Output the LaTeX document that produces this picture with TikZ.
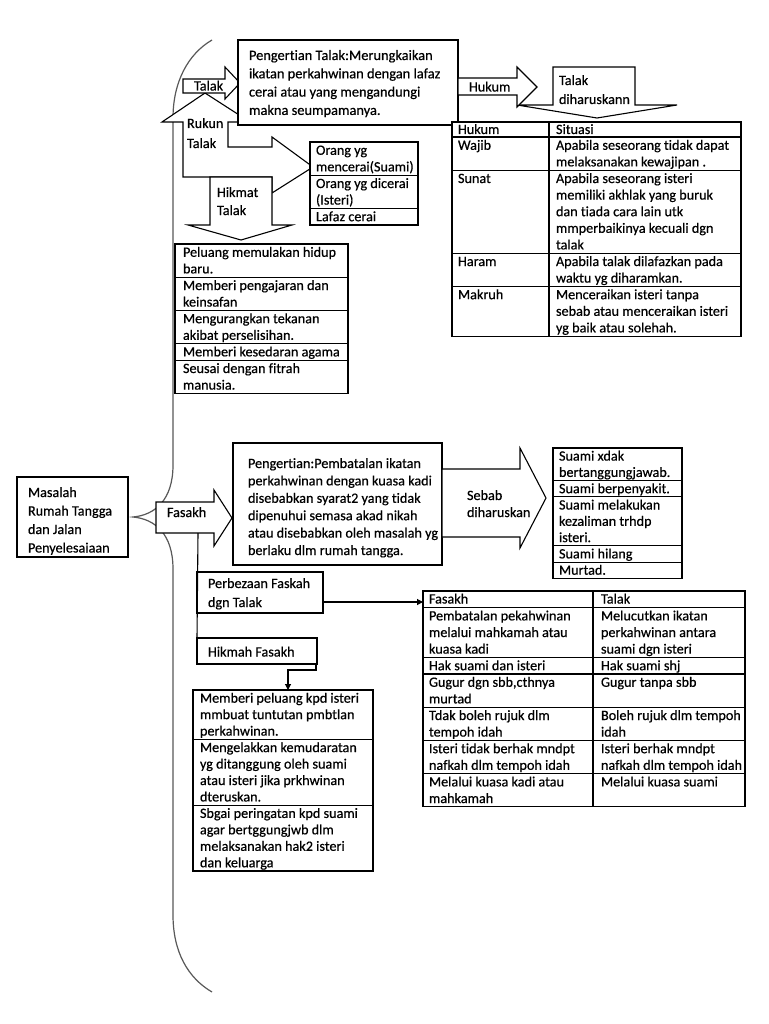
\documentclass[tikz,border=0pt]{standalone}
\usepackage{fontspec}
\setmainfont{Carlito}[FakeBold=0.5,Ligatures=NoCommon]
\usetikzlibrary{arrows.meta}
\newcommand\fs{\fontsize{14.2pt}{16.6pt}\selectfont}
\newcommand\ml[2]{\vtop{\baselineskip=#1\relax\lineskiplimit=-100pt\relax\lineskip=0pt\relax\halign{##\hfil\cr#2\crcr}}}
\begin{document}
\begin{tikzpicture}[x=1pt,y=-1pt,
  ln/.style={draw=black,line width=1.1pt},
  shp/.style={ln,fill=white,line join=miter},
  bx/.style={ln,fill=white,inner sep=0pt,outer sep=0pt,anchor=north west},
  tx/.style={inner sep=0pt,outer sep=0pt,anchor=base west,font=\fs,text=black},
  brace/.style={draw=black!65,line width=1.2pt},
  tip/.style={-{Triangle[length=6pt,width=6pt]}}
]
\useasboundingbox[fill=white] (0,0) rectangle (768,1024);

% brace
\draw[brace] (212,40) .. controls (188,54) and (173,82) .. (173,118) -- (173,465)
  .. controls (173,500) and (155,515) .. (133,517)
  .. controls (155,519) and (173,534) .. (173,569) -- (173,915)
  .. controls (173,952) and (188,978) .. (212,992);

% Masalah
\node[bx,minimum width=111pt,minimum height=80pt] (masalah) at (17,477) {};
\node[tx] (masalahT) at (28,497) {\ml{18.5pt}{Masalah\cr Rumah Tangga\cr dan Jalan\cr Penyelesaiaan}};

% ===== Talak section =====
\draw[shp] (205,93) -- (250,122) -- (228,122) -- (228,147) -- (272,147) -- (272,137)
  -- (313,167) -- (272,193) -- (272,177) -- (183,177) -- (183,122) -- (162,122) -- cycle;
\draw[shp] (210,177) -- (272,177) -- (272,225) -- (292,225) -- (241,240) -- (188,225) -- (210,225) -- cycle;
\draw[shp] (183,79) -- (225,79) -- (225,67) -- (240,83) -- (225,99) -- (225,93) -- (183,93) -- cycle;
\node[tx] (talakT) at (194,90.5) {Talak};
\node[tx] (rukunT) at (187,128) {\ml{20pt}{Rukun\cr Talak}};
\node[tx] (hikmatT) at (217,197) {\ml{18pt}{Hikmat\cr Talak}};

\draw[shp] (553,67) -- (635,67) -- (635,105) -- (677,105) -- (597,118) -- (517,105) -- (553,105) -- cycle;
\node[tx] (diharT) at (559,85) {\ml{19pt}{Talak\cr diharuskann}};

\node[bx,minimum width=220pt,minimum height=85pt] (pt) at (238,40) {};
\node[tx,font=\fontsize{14.4pt}{17pt}\selectfont] (ptT) at (249,60) {\ml{18.3pt}{Pengertian Talak:Merungkaikan\cr ikatan perkahwinan dengan lafaz\cr cerai atau yang mengandungi\cr makna seumpamanya.}};

\draw[shp] (458,78) -- (517,78) -- (517,67) -- (537,87) -- (517,107) -- (517,95) -- (458,95) -- cycle;
\node[tx] (hukumT) at (469,91.5) {Hukum};

% Hukum table
\node[bx,minimum width=289pt,minimum height=214.2pt] (htab) at (452,122) {};
\draw[ln] (549,122) -- (549,336.2);
\foreach \yy in {137,170.2,253.2,286.4} \draw[ln] (452,\yy) -- (741,\yy);
\node[tx] (h01) at (458,134) {Hukum};
\node[tx] (h02) at (556,134) {Situasi};
\node[tx] (h11) at (458,149.8) {Wajib};
\node[tx] (h12) at (556,149.8) {\ml{16.6pt}{Apabila seseorang tidak dapat\cr melaksanakan kewajipan .}};
\node[tx] (h21) at (458,183) {Sunat};
\node[tx] (h22) at (556,183) {\ml{16.6pt}{Apabila seseorang isteri\cr memiliki akhlak yang buruk\cr dan tiada cara lain utk\cr mmperbaikinya kecuali dgn\cr talak}};
\node[tx] (h31) at (458,266) {Haram};
\node[tx] (h32) at (556,266) {\ml{16.6pt}{Apabila talak dilafazkan pada\cr waktu yg diharamkan.}};
\node[tx] (h41) at (458,299.2) {Makruh};
\node[tx] (h42) at (556,299.2) {\ml{16.6pt}{Menceraikan isteri tanpa\cr sebab atau menceraikan isteri\cr yg baik atau solehah.}};

% Orang box
\node[bx,minimum width=108pt,minimum height=83pt] (orang) at (310,142) {};
\foreach \yy in {175.2,208.4} \draw[ln] (310,\yy) -- (418,\yy);
\node[tx] (o1) at (316,154.8) {\ml{16.6pt}{Orang yg\cr mencerai(Suami)}};
\node[tx] (o2) at (316,188) {\ml{16.6pt}{Orang yg dicerai\cr (Isteri)}};
\node[tx] (o3) at (316,221.2) {Lafaz cerai};

% Hikmat box
\node[bx,minimum width=173pt,minimum height=149.4pt] (hik) at (175,244) {};
\foreach \yy in {277.2,310.4,343.6,360.2} \draw[ln] (175,\yy) -- (348,\yy);
\node[tx] (k1) at (183,256.8) {\ml{16.6pt}{Peluang memulakan hidup\cr baru.}};
\node[tx] (k2) at (183,290) {\ml{16.6pt}{Memberi pengajaran dan\cr keinsafan}};
\node[tx] (k3) at (183,323.2) {\ml{16.6pt}{Mengurangkan tekanan\cr akibat perselisihan.}};
\node[tx] (k4) at (183,356.4) {Memberi kesedaran agama};
\node[tx] (k5) at (183,373) {\ml{16.6pt}{Seusai dengan fitrah\cr manusia.}};

% ===== Fasakh section =====
\draw[shp] (156,502) -- (214,502) -- (214,490) -- (232,518) -- (214,546) -- (214,533) -- (156,533) -- cycle;
\node[tx] (fasakhT) at (167,517) {Fasakh};
\coordinate (fbot) at (198,533);

\node[bx,minimum width=209pt,minimum height=122pt] (pf) at (233,443) {};
\node[tx] (pfT) at (248,468) {\ml{17.4pt}{Pengertian:Pembatalan ikatan\cr perkahwinan dengan kuasa kadi\cr disebabkan syarat2 yang tidak\cr dipenuhui semasa akad nikah\cr atau disebabkan oleh masalah yg\cr berlaku dlm rumah tangga.}};

\draw[shp] (442,469) -- (520,469) -- (520,448) -- (546,498) -- (520,548) -- (520,537) -- (442,537) -- cycle;
\node[tx] (sebabT) at (467,500) {\ml{17pt}{Sebab\cr diharuskan}};

\node[bx,minimum width=129pt,minimum height=130.4pt] (sb) at (553,448) {};
\foreach \yy in {480.6,496.9,545.8,562.1} \draw[ln] (553,\yy) -- (682,\yy);
\node[tx] (s1) at (559,460.6) {\ml{16.3pt}{Suami xdak\cr bertanggungjawab.}};
\node[tx] (s2) at (559,493.2) {Suami berpenyakit.};
\node[tx] (s3) at (559,509.5) {\ml{16.3pt}{Suami melakukan\cr kezaliman trhdp\cr isteri.}};
\node[tx] (s4) at (559,558.4) {Suami hilang};
\node[tx] (s5) at (559,574.7) {Murtad.};

% Perbezaan
\node[bx,minimum width=126pt,minimum height=41pt] (perb) at (197,572) {};
\node[tx] (perbT) at (208,588) {\ml{19pt}{Perbezaan Faskah\cr dgn Talak}};

% Hikmah Fasakh
\node[bx,minimum width=120pt,minimum height=26pt] (hf) at (197,638) {};
\node[tx] (hfT) at (208,656.5) {Hikmah Fasakh};
\draw[ln] (fbot) -- (hf.north west);

% Fasakh/Talak table
\node[bx,minimum width=322pt,minimum height=215.8pt] (ftab) at (423,591) {};
\draw[ln] (593,591) -- (593,806.8);
\foreach \yy in {607.6,657.4,674,707.2,740.4,773.6} \draw[ln] (423,\yy) -- (745,\yy);
\node[tx] (f01) at (429,603.5) {Fasakh};
\node[tx] (f02) at (601,603.5) {Talak};
\node[tx] (f11) at (429,620.4) {\ml{16.6pt}{Pembatalan pekahwinan\cr melalui mahkamah atau\cr kuasa kadi}};
\node[tx] (f12) at (601,620.4) {\ml{16.6pt}{Melucutkan ikatan\cr perkahwinan antara\cr suami dgn isteri}};
\node[tx] (f21) at (429,670.2) {Hak suami dan isteri};
\node[tx] (f22) at (601,670.2) {Hak suami shj};
\node[tx] (f31) at (429,686.8) {\ml{16.6pt}{Gugur dgn sbb,cthnya\cr murtad}};
\node[tx] (f32) at (601,686.8) {Gugur tanpa sbb};
\node[tx] (f41) at (429,720) {\ml{16.6pt}{Tdak boleh rujuk dlm\cr tempoh idah}};
\node[tx] (f42) at (601,720) {\ml{16.6pt}{Boleh rujuk dlm tempoh\cr idah}};
\node[tx] (f51) at (429,753.2) {\ml{16.6pt}{Isteri tidak berhak mndpt\cr nafkah dlm tempoh idah}};
\node[tx] (f52) at (601,753.2) {\ml{16.6pt}{Isteri berhak mndpt\cr nafkah dlm tempoh idah}};
\node[tx] (f61) at (429,786.4) {\ml{16.6pt}{Melalui kuasa kadi atau\cr mahkamah}};
\node[tx] (f62) at (601,786.4) {Melalui kuasa suami};

\coordinate (pa) at (323,602);
\coordinate (pb) at (423,602);
\draw[ln,tip] (pa) -- (pb);

% Hikmah list
\node[bx,minimum width=180pt,minimum height=181pt] (hl) at (193,690) {};
\foreach \yy in {739.4,805.2} \draw[ln] (193,\yy) -- (373,\yy);
\node[tx] (l1) at (200,702.7) {\ml{16.45pt}{Memberi peluang kpd isteri\cr mmbuat tuntutan pmbtlan\cr perkahwinan.}};
\node[tx] (l2) at (200,752.1) {\ml{16.45pt}{Mengelakkan kemudaratan\cr yg ditanggung oleh suami\cr atau isteri jika prkhwinan\cr dteruskan.}};
\node[tx] (l3) at (200,817.9) {\ml{16.45pt}{Sbgai peringatan kpd suami\cr agar bertggungjwb dlm\cr melaksanakan hak2 isteri\cr dan keluarga}};

\coordinate (ha) at (316,664);
\coordinate (hb) at (288,690);
\draw[ln,tip] (ha) -- (316,670) -- (288,670) -- (hb);
\end{tikzpicture}
\end{document}
